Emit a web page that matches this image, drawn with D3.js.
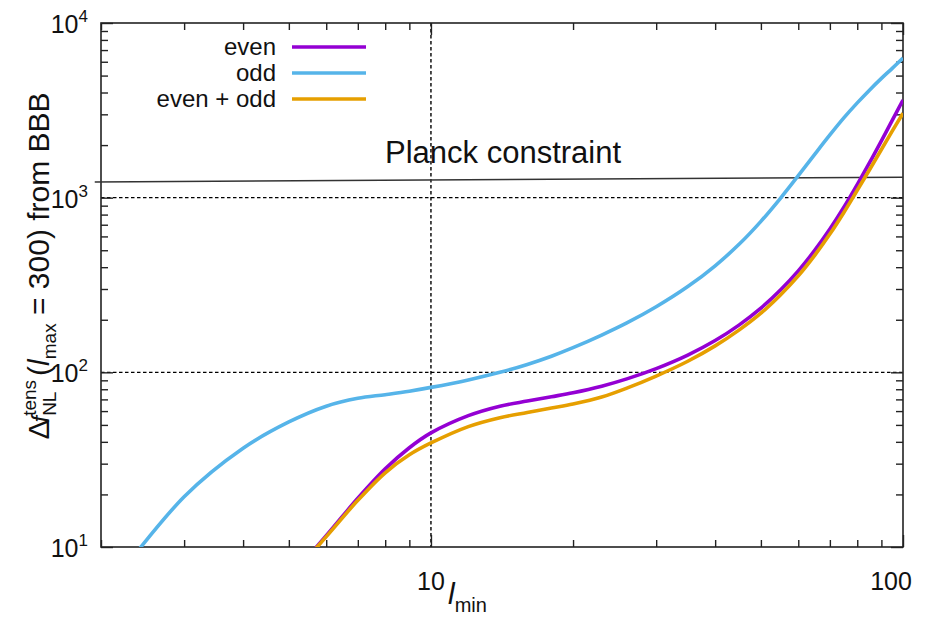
<!DOCTYPE html>
<html><head><meta charset="utf-8">
<script src="https://cdn.jsdelivr.net/npm/d3@7"></script>
<style>
body{margin:0;background:#fff}
svg{display:block}
text{font-family:"Liberation Sans",Arial,Helvetica,sans-serif;fill:#111;white-space:pre}
</style>
</head><body>
<svg id="c" width="930" height="632"></svg>
<script>
// ---- data ----
const oddL  = [2,3,4,5,6,7,8,9,10,12,14,16,18,20,23,26,30,35,40,45,50,55,60,65,70,75,80,85,90,95,100];
const oddV  = [5.1,19.4,36.8,52,64,71,74.5,78,82,90.5,100,111,123.7,138.4,163.4,191.7,237.3,309.7,407.4,542.4,732,992,1336,1769,2285,2870,3488,4140,4817,5519,6303];
const evenL = [5,6,7,8,9,10,12,14,16,18,20,23,26,30,35,40,45,50,55,60,65,70,75,80,85,90,95,100];
const evenV = [6.6,11.6,19,28,37,45,56.5,64,68.5,72.5,76.4,83.3,91.7,105,125.5,152,187,233,296,381,499,661,884,1189,1590,2116,2788,3623];
const bothV = [6.56,11.46,18.5,26.6,33.7,39.4,48.9,55,58.9,62.5,65.9,72.2,81.2,95.2,115.7,141.7,175,218,277.3,356.5,467.2,618.5,825.6,1102,1450,1887,2418,3041];
const planckL = [1.94,100];
const planckV = [1228,1310];
const seriesNames = ["even","odd","even + odd"];
const seriesColors = ["#9400D3","#56B4E9","#E69F00"];
const xMajor = [10,100];
const xMinor = [2,3,4,5,6,7,8,9,20,30,40,50,60,70,80,90];
const yMajor = [10,100,1000,10000];
const yMinor = [20,30,40,50,60,70,80,90,200,300,400,500,600,700,800,900,2000,3000,4000,5000,6000,7000,8000,9000];
const yTickExp = ["1","2","3","4"];
const xTickLabels = ["10","100"];
const gridX = [10];
const gridY = [100,1000];

// ---- layout ----
const L=101, R=903, T=23, B=547;
const svg=d3.select("#c");
const x=d3.scaleLog().domain([2,100]).range([L,R]);
const y=d3.scaleLog().domain([10,10000]).range([B,T]);

svg.append("defs").append("clipPath").attr("id","clip")
  .append("rect").attr("x",L).attr("y",T).attr("width",R-L).attr("height",B-T);

// grid dashed
const gg=svg.append("g").attr("stroke","#000").attr("stroke-width",1.4).attr("stroke-dasharray","3.5,2.5");
gridX.forEach(v=>gg.append("line").attr("x1",x(v)).attr("x2",x(v)).attr("y1",T).attr("y2",B));
gridY.forEach(v=>gg.append("line").attr("x1",L).attr("x2",R).attr("y1",y(v)).attr("y2",y(v)));

// axes ticks
function ticks(axisFn, scale, vals, size, transform){
  const g=svg.append("g").attr("transform",transform)
    .call(axisFn(scale).tickValues(vals).tickSize(size).tickFormat(""));
  g.select(".domain").remove();
  g.selectAll("line").attr("stroke","#222").attr("stroke-width",1.4);
}
ticks(d3.axisBottom,x,xMinor,-7,`translate(0,${B})`);
ticks(d3.axisTop,x,xMinor,-7,`translate(0,${T})`);
ticks(d3.axisBottom,x,xMajor,-12,`translate(0,${B})`);
ticks(d3.axisTop,x,xMajor,-12,`translate(0,${T})`);
ticks(d3.axisLeft,y,yMinor,-7,`translate(${L},0)`);
ticks(d3.axisRight,y,yMinor,-7,`translate(${R},0)`);
ticks(d3.axisLeft,y,yMajor,-12,`translate(${L},0)`);
ticks(d3.axisRight,y,yMajor,-12,`translate(${R},0)`);

// frame
svg.append("rect").attr("x",L).attr("y",T).attr("width",R-L).attr("height",B-T)
  .attr("fill","none").attr("stroke","#222").attr("stroke-width",1.6);

// planck line
const line=d3.line().x(d=>x(d[0])).y(d=>y(d[1]));
svg.append("path").datum(planckL.map((l,i)=>[l,planckV[i]]))
  .attr("d",line).attr("fill","none").attr("stroke","#333").attr("stroke-width",1.5);
svg.append("text").attr("x",385).attr("y",163).attr("font-size",31).text("Planck constraint");

// curves
const curve=d3.line().x(d=>x(d[0])).y(d=>y(d[1])).curve(d3.curveCatmullRom.alpha(0.5));
const series=[
  evenL.map((l,i)=>[l,evenV[i]]),
  oddL.map((l,i)=>[l,oddV[i]]),
  evenL.map((l,i)=>[l,bothV[i]])
];
const cg=svg.append("g").attr("clip-path","url(#clip)");
series.forEach((s,i)=>{
  cg.append("path").datum(s).attr("d",curve).attr("fill","none")
    .attr("stroke",seriesColors[i]).attr("stroke-width",3.6).attr("stroke-linejoin","round");
});

// legend
seriesNames.forEach((n,i)=>{
  const ly=47+i*26;
  svg.append("text").attr("x",276).attr("y",ly+8).attr("text-anchor","end").attr("font-size",24).text(n);
  svg.append("line").attr("x1",292).attr("x2",366).attr("y1",ly).attr("y2",ly)
    .attr("stroke",seriesColors[i]).attr("stroke-width",3.6);
});

// y tick labels
yMajor.forEach((v,i)=>{
  const t=svg.append("text").attr("x",88).attr("y",y(v)+10).attr("text-anchor","end").attr("font-size",25);
  t.append("tspan").text("10");
  t.append("tspan").attr("font-size",17).attr("dy",-11).text(yTickExp[i]);
});
// x tick labels
xMajor.forEach((v,i)=>{
  svg.append("text").attr("x",i===1?x(v)-12:x(v)).attr("y",590).attr("text-anchor","middle")
    .attr("font-size",25).text(xTickLabels[i]);
});

// rich text helper
function rich(g, parts){
  let cx=0, stackStart=0, stackMax=0;
  parts.forEach(p=>{
    const t=g.append("text").attr("font-size",p.size).attr("y",p.dy||0).text(p.t);
    if(p.italic) t.attr("font-style","italic");
    const w=t.node().getComputedTextLength();
    if(p.stack){
      t.attr("x",stackStart);
      cx=stackStart+Math.max(stackMax,w);
    } else {
      cx+=(p.dx||0);
      t.attr("x",cx);
      stackStart=cx; stackMax=w;
      cx+=w;
    }
  });
  return cx;
}

// y label
const yl=svg.append("g").attr("transform","translate(49,266) rotate(-90)");
const yli=yl.append("g");
const wY=rich(yli,[
  {t:"Δ",size:30},
  {t:"f",size:24,italic:true,dx:-3},
  {t:"NL",size:19,dy:7},
  {t:"tens",size:19,dy:-13,stack:true},
  {t:"(",size:30,dx:4},
  {t:"l",size:30,italic:true},
  {t:"max",size:19,dy:7},
  {t:" = 300) from BBB",size:30}
]);
yli.attr("transform",`translate(${-wY/2},0)`);

// x label
const xl=svg.append("g").attr("transform","translate(448,604)");
rich(xl,[
  {t:"l",size:30,italic:true},
  {t:"min",size:20,dy:8}
]);
</script>
</body></html>
